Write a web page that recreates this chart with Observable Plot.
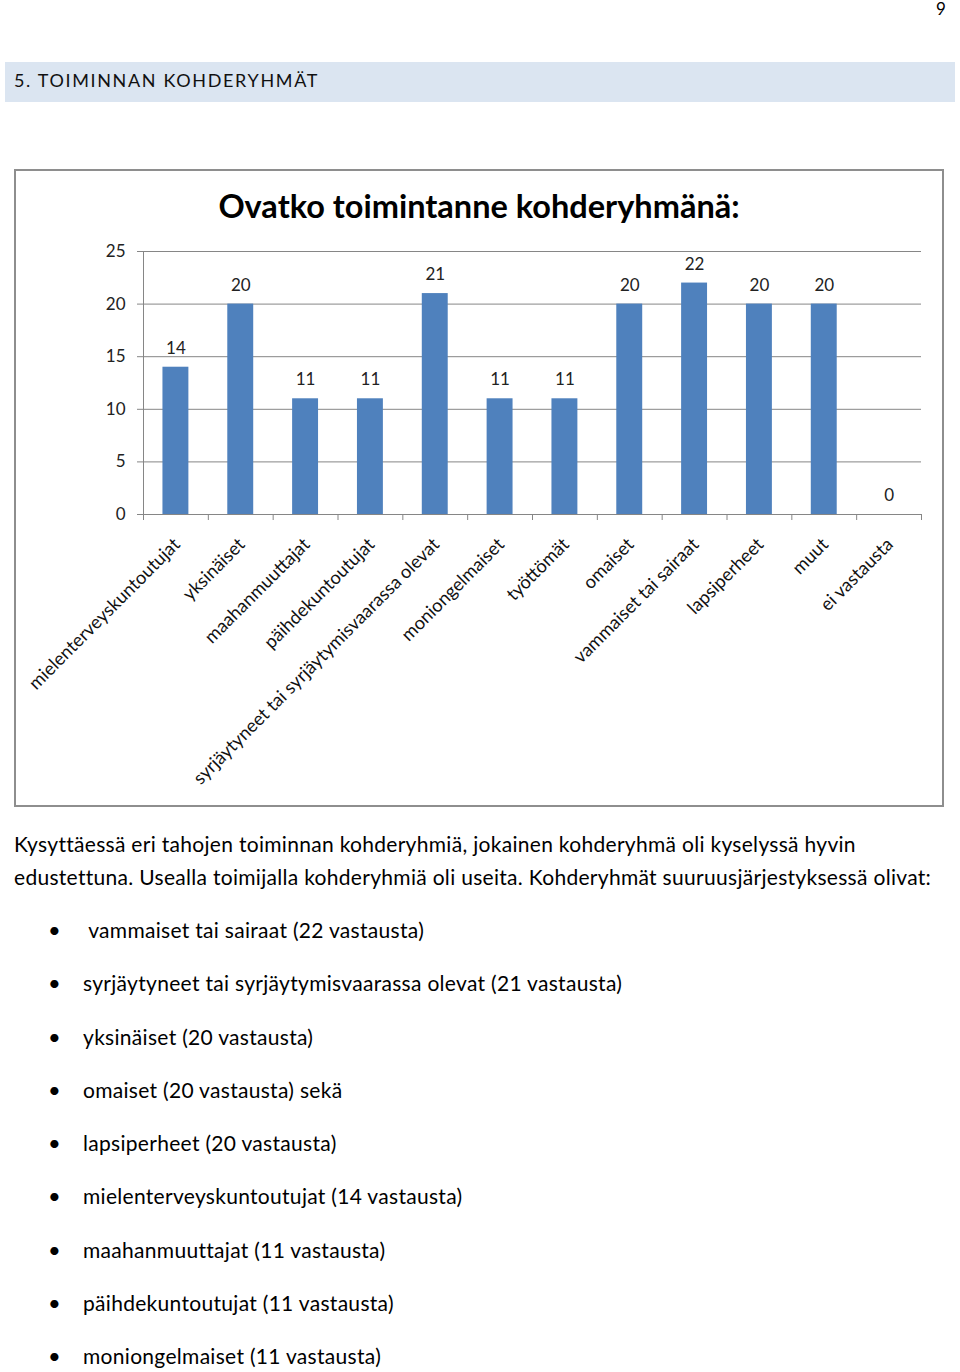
<!DOCTYPE html>
<html>
<head>
<meta charset="utf-8">
<script src="https://cdn.jsdelivr.net/npm/d3@7"></script>
<script src="https://cdn.jsdelivr.net/npm/@observablehq/plot@0.6"></script>
<style>
  html, body { margin: 0; padding: 0; background: #fff; }
  body { position: relative; width: 960px; height: 1372px; overflow: hidden;
         font-family: Lato, Carlito, Calibri, sans-serif; color: #000; }
  .abs { position: absolute; white-space: nowrap; }
  #pagenum { left: 936px; top: 0px; font-size: 17px; line-height: 17px; }
  #band { left: 5px; top: 62px; width: 950px; height: 40px; background: #dbe5f1; }
  #heading { left: 14px; top: 68px; font-size: 18px; line-height: 24px; letter-spacing: 1.65px; color: #111; }
  #box { left: 14px; top: 169px; width: 930px; height: 638px; border: 2px solid #8e8e8e; box-sizing: border-box; }
  #ctitle { left: 15px; top: 186px; width: 928px; text-align: center; font-size: 32.5px; font-weight: bold; line-height: 40px; }
  #chart { left: 15px; top: 230px; }
  #para { left: 14px; top: 827px; font-size: 21px; line-height: 33px; letter-spacing: 0.3px; }
  #list { left: 0; top: 903px; margin: 0; padding: 0; list-style: none; font-size: 21px; letter-spacing: 0.3px; }
  #list li { position: relative; height: 53.25px; line-height: 53.25px; padding-left: 83px; white-space: pre; }
  #list li::before { content: "•"; position: absolute; left: 48px; font-size: 22px; }
</style>
</head>
<body>
<div class="abs" id="pagenum">9</div>
<div class="abs" id="band"></div>
<div class="abs" id="heading">5. TOIMINNAN KOHDERYHMÄT</div>
<div class="abs" id="box"></div>
<div class="abs" id="ctitle">Ovatko toimintanne kohderyhmänä:</div>
<div class="abs" id="chart"></div>
<div class="abs" id="para">Kysyttäessä eri tahojen toiminnan kohderyhmiä, jokainen kohderyhmä oli kyselyssä hyvin<br>edustettuna. Usealla toimijalla kohderyhmiä oli useita. Kohderyhmät suuruusjärjestyksessä olivat:</div>
<ul class="abs" id="list"></ul>
<script>
const categories = [
  "mielenterveyskuntoutujat", "yksinäiset", "maahanmuuttajat", "päihdekuntoutujat",
  "syrjäytyneet tai syrjäytymisvaarassa olevat", "moniongelmaiset", "työttömät",
  "omaiset", "vammaiset tai sairaat", "lapsiperheet", "muut", "ei vastausta"
];
const values = [14, 20, 11, 11, 21, 11, 11, 20, 22, 20, 20, 0];
const yTicks = [0, 5, 10, 15, 20, 25];
const bulletItems = [
  " vammaiset tai sairaat (22 vastausta)",
  "syrjäytyneet tai syrjäytymisvaarassa olevat (21 vastausta)",
  "yksinäiset (20 vastausta)",
  "omaiset (20 vastausta) sekä",
  "lapsiperheet (20 vastausta)",
  "mielenterveyskuntoutujat (14 vastausta)",
  "maahanmuuttajat (11 vastausta)",
  "päihdekuntoutujat (11 vastausta)",
  "moniongelmaiset (11 vastausta)"
];

const data = categories.map((name, i) => ({ i, name, value: values[i] }));
const gridColor = "#868686";
const font = "Lato, Carlito, Calibri, sans-serif";

const chart = Plot.plot({
  width: 928,
  height: 576,
  marginLeft: 128,
  marginRight: 22,
  marginTop: 21,
  marginBottom: 292,
  style: { fontFamily: font, background: "transparent", overflow: "visible" },
  x: { type: "linear", domain: [0, categories.length], axis: null },
  y: { domain: [0, 25], axis: null },
  marks: [
    Plot.gridY(yTicks, { stroke: gridColor, strokeOpacity: 1 }),
    Plot.axisY(yTicks, { label: null, tickSize: 6, tickPadding: 12, stroke: gridColor, fontSize: 17, fill: "#222", tickFormat: d => String(d) }),
    Plot.ruleX([0], { stroke: gridColor, y1: 0, y2: 25 }),
    Plot.axisX(d3.range(categories.length + 1), { label: null, tickSize: 6, stroke: gridColor, tickFormat: () => "" }),
    Plot.rectY(data, { x1: d => d.i + 0.3, x2: d => d.i + 0.7, y: "value", fill: "#4f81bd" }),
    Plot.ruleY([0], { stroke: gridColor }),
    Plot.text(data, { x: d => d.i + 0.5, y: "value", text: d => String(d.value), dy: -19, fontSize: 17, fill: "#222" }),
    Plot.text(data, { x: d => d.i + 0.5, y: 0, text: "name", rotate: -45, textAnchor: "end", lineAnchor: "top", dx: -4, dy: 22, fontSize: 18.3, fill: "#111" })
  ]
});
document.getElementById("chart").appendChild(chart);

const ul = document.getElementById("list");
for (const t of bulletItems) {
  const li = document.createElement("li");
  li.textContent = t;
  ul.appendChild(li);
}
</script>
</body>
</html>
